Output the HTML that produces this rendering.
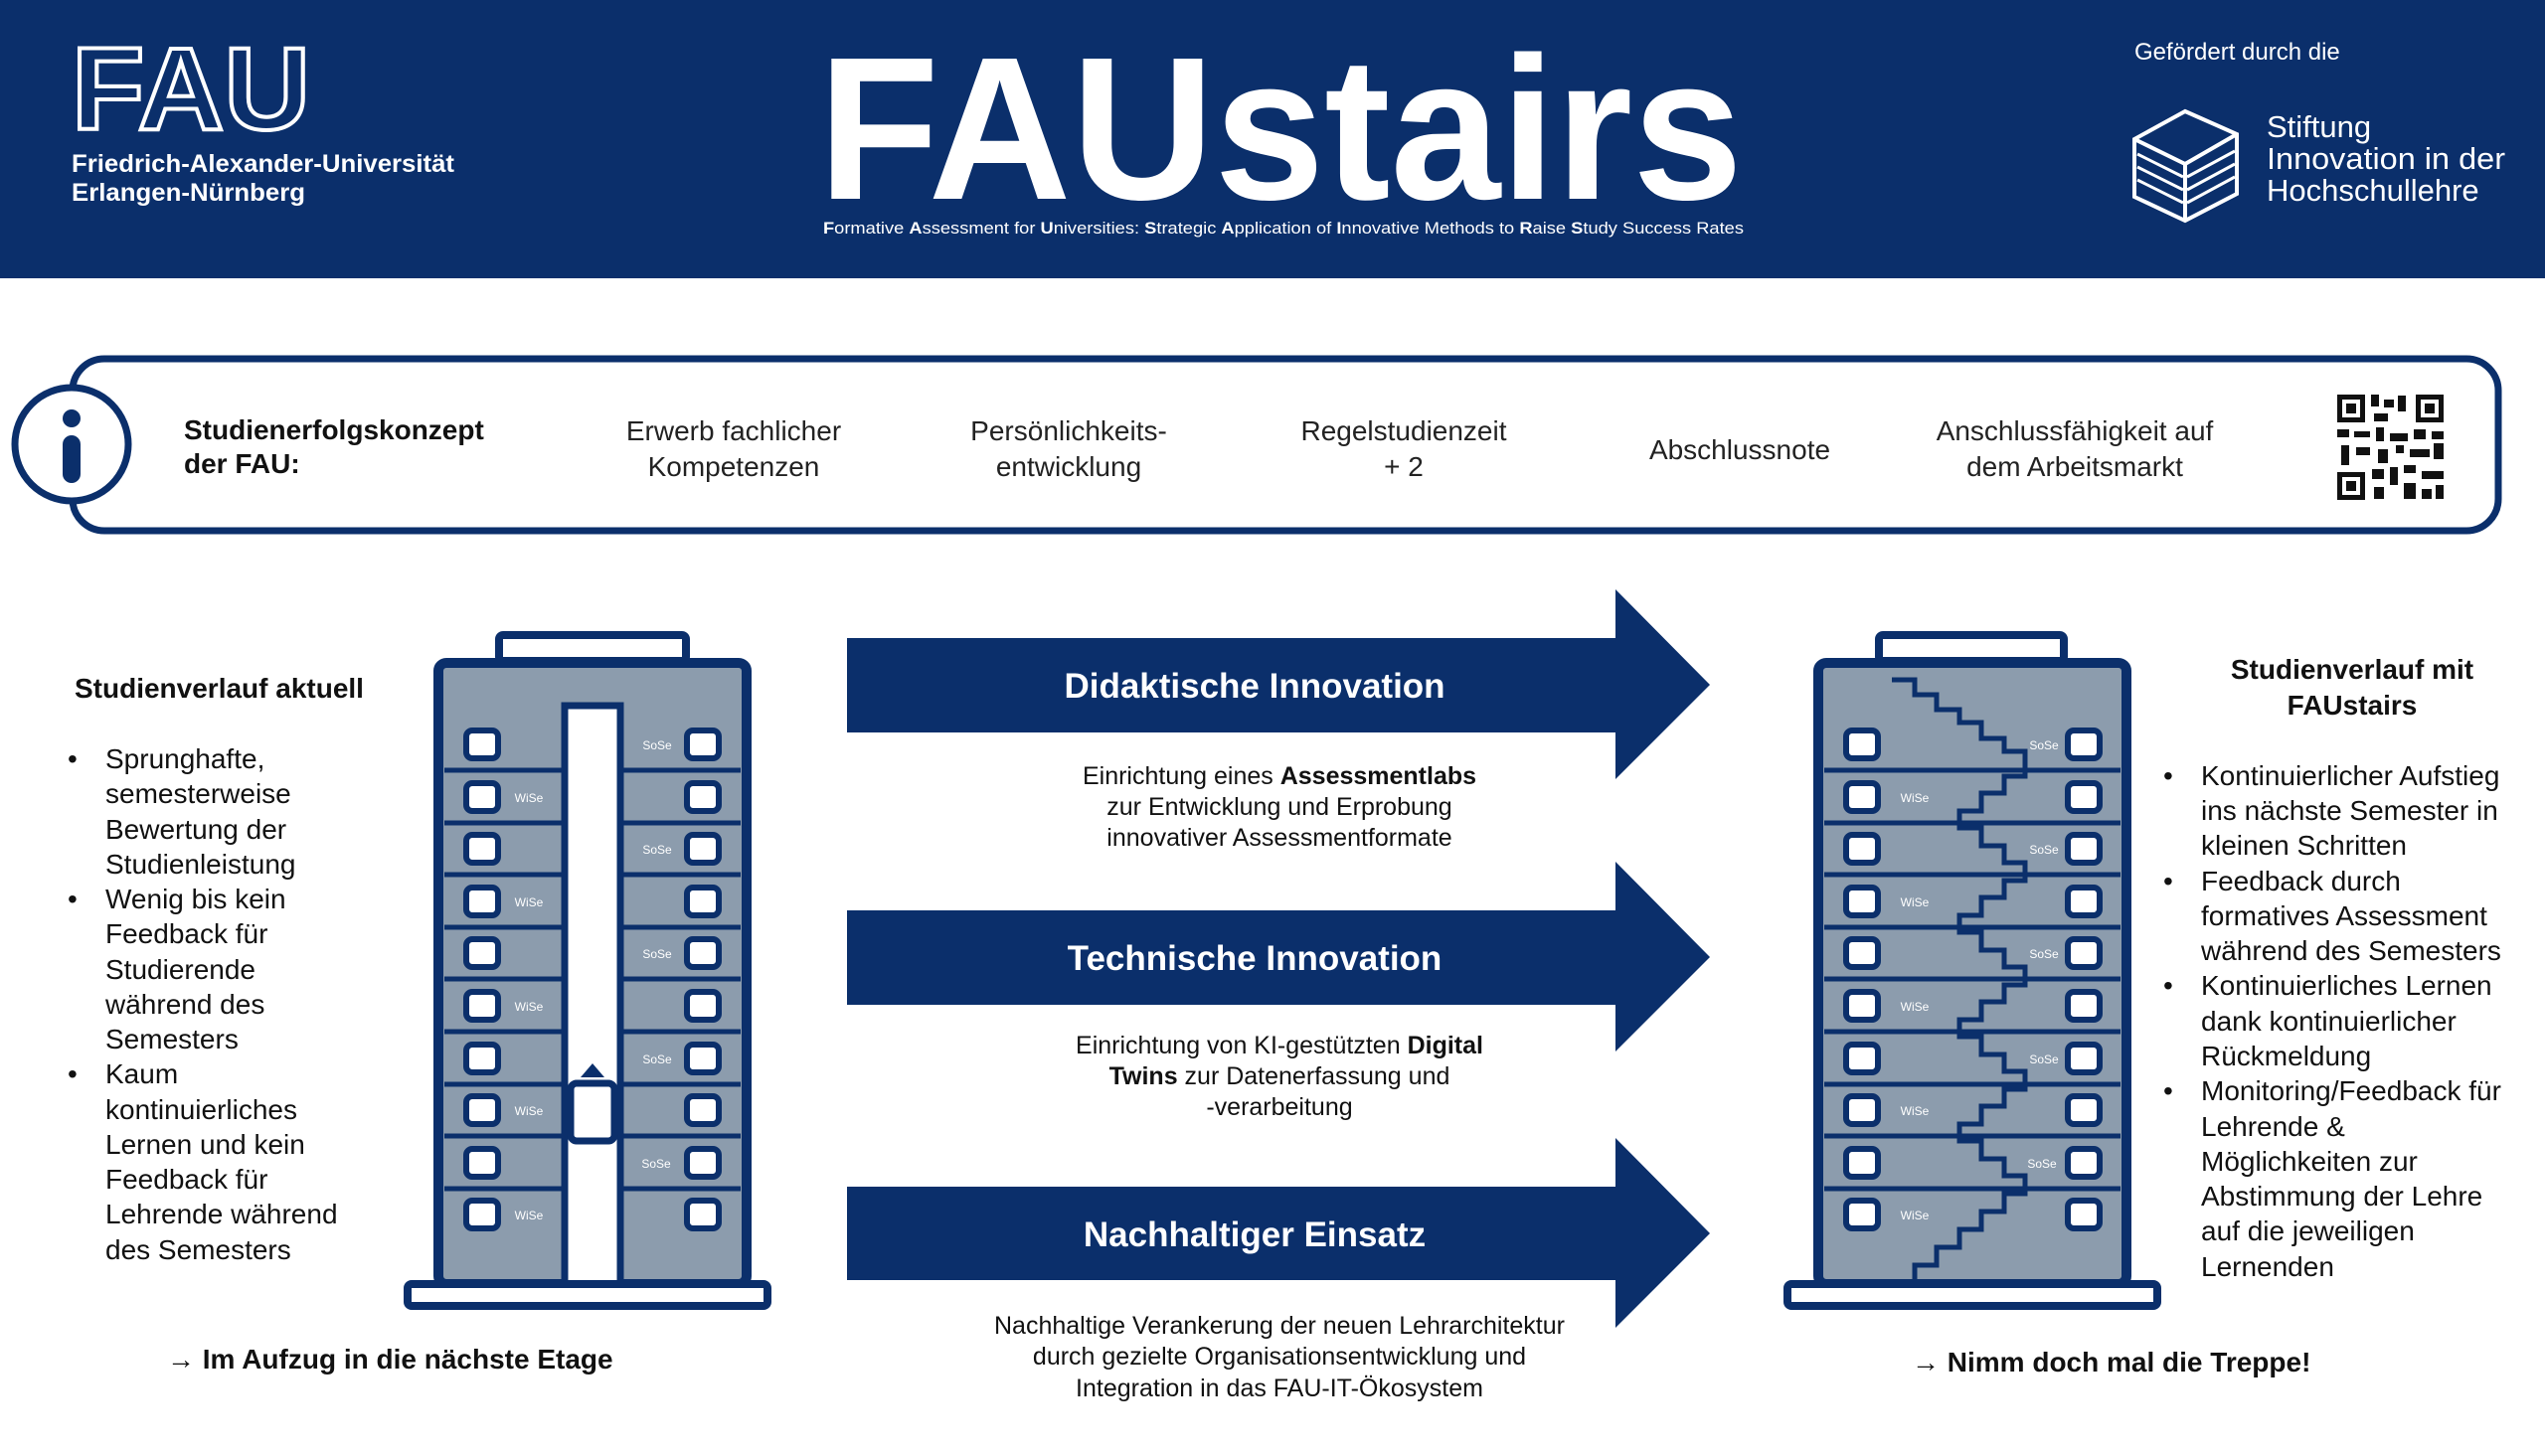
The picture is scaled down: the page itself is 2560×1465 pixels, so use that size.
<!DOCTYPE html>
<html><head><meta charset="utf-8"><style>
html,body{margin:0;padding:0;background:#fff;}
svg{display:block;font-family:"Liberation Sans",sans-serif;}
</style></head><body>
<svg width="2560" height="1465" viewBox="0 0 2560 1465" xmlns="http://www.w3.org/2000/svg">
<defs>
<g id="win"><rect x="0" y="0" width="32" height="28" rx="6" fill="#fff" stroke="#0b2f6b" stroke-width="6"/></g>
<g id="floors" stroke="#0b2f6b" stroke-width="5">
<line x1="0" y1="775" x2="298" y2="775"/><line x1="0" y1="828" x2="298" y2="828"/><line x1="0" y1="880" x2="298" y2="880"/><line x1="0" y1="933" x2="298" y2="933"/><line x1="0" y1="985" x2="298" y2="985"/><line x1="0" y1="1038" x2="298" y2="1038"/><line x1="0" y1="1091" x2="298" y2="1091"/><line x1="0" y1="1143" x2="298" y2="1143"/><line x1="0" y1="1196" x2="298" y2="1196"/>
</g>
<g id="wins">
<use href="#win" x="0" y="735"/><use href="#win" x="0" y="788"/><use href="#win" x="0" y="840"/><use href="#win" x="0" y="893"/><use href="#win" x="0" y="945"/><use href="#win" x="0" y="998"/><use href="#win" x="0" y="1051"/><use href="#win" x="0" y="1103"/><use href="#win" x="0" y="1156"/><use href="#win" x="0" y="1208"/>
</g>
</defs>
<!-- header -->
<rect x="0" y="0" width="2560" height="280" fill="#0b2f6b"/>
<text x="72" y="130" font-size="118" font-weight="bold" fill="none" stroke="#fff" stroke-width="4" textLength="240" lengthAdjust="spacingAndGlyphs">FAU</text>
<text x="72" y="173" font-size="25" font-weight="bold" fill="#fff" textLength="385" lengthAdjust="spacingAndGlyphs">Friedrich-Alexander-Universität</text>
<text x="72" y="202" font-size="25" font-weight="bold" fill="#fff" textLength="235" lengthAdjust="spacingAndGlyphs">Erlangen-Nürnberg</text>
<text x="823" y="200" font-size="205" font-weight="bold" fill="#fff" textLength="930" lengthAdjust="spacingAndGlyphs">FAUstairs</text>
<text x="828" y="235" font-size="17" fill="#fff" textLength="926" lengthAdjust="spacingAndGlyphs"><tspan font-weight="bold">F</tspan>ormative <tspan font-weight="bold">A</tspan>ssessment for <tspan font-weight="bold">U</tspan>niversities: <tspan font-weight="bold">S</tspan>trategic <tspan font-weight="bold">A</tspan>pplication of <tspan font-weight="bold">I</tspan>nnovative Methods to <tspan font-weight="bold">R</tspan>aise <tspan font-weight="bold">S</tspan>tudy Success Rates</text>
<text x="2147" y="60" font-size="24" fill="#fff">Gefördert durch die</text>
<g fill="none" stroke="#fff" stroke-width="4">
<polygon points="2198,112 2250,135 2250,195 2198,222 2147,198 2147,140"/>
<polyline points="2147,140 2198,165 2250,135"/>
<line x1="2198" y1="165" x2="2198" y2="222"/>
<line x1="2150" y1="155" x2="2196" y2="178" stroke-width="3"/>
<line x1="2150" y1="168" x2="2196" y2="191" stroke-width="3"/>
<line x1="2150" y1="181" x2="2196" y2="204" stroke-width="3"/>
<line x1="2200" y1="178" x2="2248" y2="152" stroke-width="3"/>
<line x1="2200" y1="191" x2="2248" y2="165" stroke-width="3"/>
<line x1="2200" y1="204" x2="2248" y2="178" stroke-width="3"/>
</g>
<text x="2280" y="138" font-size="31" fill="#fff">Stiftung</text>
<text x="2280" y="170" font-size="31" fill="#fff" textLength="240" lengthAdjust="spacingAndGlyphs">Innovation in der</text>
<text x="2280" y="202" font-size="31" fill="#fff">Hochschullehre</text>

<!-- info box -->
<rect x="73" y="361" width="2440" height="173" rx="32" fill="#fff" stroke="#0b2f6b" stroke-width="7"/>
<circle cx="72" cy="447" r="57" fill="#fff" stroke="#0b2f6b" stroke-width="7"/>
<circle cx="72" cy="421" r="9" fill="#0b2f6b"/>
<rect x="63" y="438" width="18" height="48" rx="9" fill="#0b2f6b"/>
<text x="185" y="442" font-size="28" font-weight="bold" fill="#111">Studienerfolgskonzept</text>
<text x="185" y="476" font-size="28" font-weight="bold" fill="#111">der FAU:</text>
<g font-size="28" fill="#222" text-anchor="middle">
<text x="738" y="443">Erwerb fachlicher</text><text x="738" y="479">Kompetenzen</text>
<text x="1075" y="443">Persönlichkeits-</text><text x="1075" y="479">entwicklung</text>
<text x="1412" y="443">Regelstudienzeit</text><text x="1412" y="479">+ 2</text>
<text x="1750" y="462">Abschlussnote</text>
<text x="2087" y="443">Anschlussfähigkeit auf</text><text x="2087" y="479">dem Arbeitsmarkt</text>
</g>
<!-- QR -->
<g fill="#111">
<rect x="2351" y="397" width="28" height="28"/><rect x="2356" y="402" width="18" height="18" fill="#fff"/><rect x="2360" y="406" width="10" height="10"/>
<rect x="2430" y="397" width="28" height="28"/><rect x="2435" y="402" width="18" height="18" fill="#fff"/><rect x="2439" y="406" width="10" height="10"/>
<rect x="2351" y="475" width="28" height="28"/><rect x="2356" y="480" width="18" height="18" fill="#fff"/><rect x="2360" y="484" width="10" height="10"/>
<rect x="2385" y="397" width="8" height="12"/><rect x="2398" y="402" width="10" height="8"/><rect x="2412" y="398" width="8" height="16"/><rect x="2388" y="416" width="14" height="8"/>
<rect x="2351" y="432" width="12" height="8"/><rect x="2368" y="434" width="16" height="6"/><rect x="2390" y="430" width="8" height="14"/><rect x="2404" y="436" width="18" height="8"/><rect x="2428" y="432" width="12" height="10"/><rect x="2446" y="434" width="12" height="8"/>
<rect x="2355" y="448" width="8" height="20"/><rect x="2370" y="450" width="14" height="8"/><rect x="2392" y="452" width="10" height="14"/><rect x="2410" y="448" width="8" height="8"/><rect x="2424" y="452" width="20" height="8"/><rect x="2448" y="446" width="10" height="16"/>
<rect x="2386" y="472" width="12" height="10"/><rect x="2404" y="470" width="8" height="18"/><rect x="2418" y="468" width="12" height="8"/><rect x="2436" y="474" width="22" height="8"/><rect x="2388" y="490" width="10" height="12"/><rect x="2418" y="486" width="12" height="16"/><rect x="2436" y="492" width="10" height="10"/><rect x="2450" y="488" width="8" height="14"/>
</g>

<!-- LEFT BUILDING -->
<g>
<rect x="502" y="639" width="188" height="26" rx="4" fill="#fff" stroke="#0b2f6b" stroke-width="8"/>
<rect x="441" y="667" width="310" height="625" rx="8" fill="#8c9cad" stroke="#0b2f6b" stroke-width="10"/>
<use href="#floors" x="447"/>
<rect x="568" y="710" width="56" height="582" fill="#fff" stroke="#0b2f6b" stroke-width="7"/>
<rect x="410" y="1292" width="362" height="22" rx="4" fill="#fff" stroke="#0b2f6b" stroke-width="8"/>
<rect x="574" y="1090" width="44" height="58" rx="6" fill="#fff" stroke="#0b2f6b" stroke-width="7"/>
<polygon points="584,1084 608,1084 596,1070" fill="#0b2f6b"/>
<use href="#wins" x="469"/><use href="#wins" x="691"/>
<g font-size="12" fill="#fff" text-anchor="middle">
<text x="661" y="754">SoSe</text><text x="661" y="859">SoSe</text><text x="661" y="964">SoSe</text><text x="661" y="1070">SoSe</text><text x="660" y="1175">SoSe</text>
<text x="532" y="807">WiSe</text><text x="532" y="912">WiSe</text><text x="532" y="1017">WiSe</text><text x="532" y="1122">WiSe</text><text x="532" y="1227">WiSe</text>
</g>
</g>

<!-- RIGHT BUILDING -->
<g>
<rect x="1890" y="639" width="186" height="26" rx="4" fill="#fff" stroke="#0b2f6b" stroke-width="8"/>
<rect x="1829" y="667" width="310" height="625" rx="8" fill="#8c9cad" stroke="#0b2f6b" stroke-width="10"/>
<use href="#floors" x="1835"/>
<path d="M1903 684 H1926 V699 H1948 V714 H1971 V727 H1993 V743 H2016 V756 H2037 V781
H2016 V798 H1993 V816 H1971 V833 H1993 V851 H2016 V868 H2037 V886
H2016 V903 H1993 V921 H1971 V938 H1993 V956 H2016 V973 H2037 V991
H2016 V1008 H1993 V1026 H1971 V1043 H1993 V1061 H2016 V1078 H2037 V1096
H2016 V1113 H1993 V1131 H1971 V1148 H1993 V1166 H2016 V1183 H2037 V1201
H2016 V1219 H1993 V1237 H1971 V1255 H1948 V1273 H1926 V1292" fill="none" stroke="#0b2f6b" stroke-width="5"/>
<rect x="1798" y="1292" width="372" height="22" rx="4" fill="#fff" stroke="#0b2f6b" stroke-width="8"/>
<use href="#wins" x="1857"/><use href="#wins" x="2080"/>
<g font-size="12" fill="#fff" text-anchor="middle">
<text x="2056" y="754">SoSe</text><text x="2056" y="859">SoSe</text><text x="2056" y="964">SoSe</text><text x="2056" y="1070">SoSe</text><text x="2054" y="1175">SoSe</text>
<text x="1926" y="807">WiSe</text><text x="1926" y="912">WiSe</text><text x="1926" y="1017">WiSe</text><text x="1926" y="1122">WiSe</text><text x="1926" y="1227">WiSe</text>
</g>
</g>

<!-- ARROWS -->
<g fill="#0b2f6b">
<polygon points="852,642 1625,642 1625,593 1720,689 1625,784 1625,737 852,737"/>
<polygon points="852,916 1625,916 1625,867 1720,963 1625,1058 1625,1011 852,1011"/>
<polygon points="852,1194 1625,1194 1625,1145 1720,1241 1625,1336 1625,1288 852,1288"/>
</g>
<g font-size="35" font-weight="bold" fill="#fff" text-anchor="middle">
<text x="1262" y="702">Didaktische Innovation</text>
<text x="1262" y="976">Technische  Innovation</text>
<text x="1262" y="1254">Nachhaltiger Einsatz</text>
</g>
<g font-size="25" fill="#111" text-anchor="middle">
<text x="1287" y="789">Einrichtung eines <tspan font-weight="bold">Assessmentlabs</tspan></text>
<text x="1287" y="820">zur Entwicklung und Erprobung</text>
<text x="1287" y="851">innovativer Assessmentformate</text>
<text x="1287" y="1060">Einrichtung von KI-gestützten <tspan font-weight="bold">Digital</tspan></text>
<text x="1287" y="1091"><tspan font-weight="bold">Twins</tspan> zur Datenerfassung und</text>
<text x="1287" y="1122">-verarbeitung</text>
<text x="1287" y="1342">Nachhaltige Verankerung der neuen Lehrarchitektur</text>
<text x="1287" y="1373">durch gezielte Organisationsentwicklung und</text>
<text x="1287" y="1405">Integration in das FAU-IT-Ökosystem</text>
</g>

<!-- LEFT TEXT -->
<text x="75" y="702" font-size="28" font-weight="bold" fill="#111">Studienverlauf aktuell</text>
<g font-size="28" fill="#111">
<text x="68" y="773">•</text><text x="68" y="914">•</text><text x="68" y="1090">•</text>
<text x="106" y="773">Sprunghafte,</text>
<text x="106" y="808">semesterweise</text>
<text x="106" y="844">Bewertung der</text>
<text x="106" y="879">Studienleistung</text>
<text x="106" y="914">Wenig bis kein</text>
<text x="106" y="949">Feedback für</text>
<text x="106" y="985">Studierende</text>
<text x="106" y="1020">während des</text>
<text x="106" y="1055">Semesters</text>
<text x="106" y="1090">Kaum</text>
<text x="106" y="1126">kontinuierliches</text>
<text x="106" y="1161">Lernen und kein</text>
<text x="106" y="1196">Feedback für</text>
<text x="106" y="1231">Lehrende während</text>
<text x="106" y="1267">des Semesters</text>
</g>
<text x="168" y="1377" font-size="28" font-weight="bold" fill="#111">→ Im Aufzug in die nächste Etage</text>

<!-- RIGHT TEXT -->
<g font-size="28" font-weight="bold" fill="#111" text-anchor="middle">
<text x="2366" y="683">Studienverlauf mit</text>
<text x="2366" y="719">FAUstairs</text>
</g>
<g font-size="28" fill="#111">
<text x="2176" y="790">•</text><text x="2176" y="896">•</text><text x="2176" y="1001">•</text><text x="2176" y="1107">•</text>
<text x="2214" y="790">Kontinuierlicher Aufstieg</text>
<text x="2214" y="825">ins nächste Semester in</text>
<text x="2214" y="860">kleinen Schritten</text>
<text x="2214" y="896">Feedback durch</text>
<text x="2214" y="931">formatives Assessment</text>
<text x="2214" y="966">während des Semesters</text>
<text x="2214" y="1001">Kontinuierliches Lernen</text>
<text x="2214" y="1037">dank kontinuierlicher</text>
<text x="2214" y="1072">Rückmeldung</text>
<text x="2214" y="1107">Monitoring/Feedback für</text>
<text x="2214" y="1143">Lehrende &amp;</text>
<text x="2214" y="1178">Möglichkeiten zur</text>
<text x="2214" y="1213">Abstimmung der Lehre</text>
<text x="2214" y="1248">auf die jeweiligen</text>
<text x="2214" y="1284">Lernenden</text>
</g>
<text x="1923" y="1380" font-size="28" font-weight="bold" fill="#111">→ Nimm doch mal die Treppe!</text>
</svg>
</body></html>
